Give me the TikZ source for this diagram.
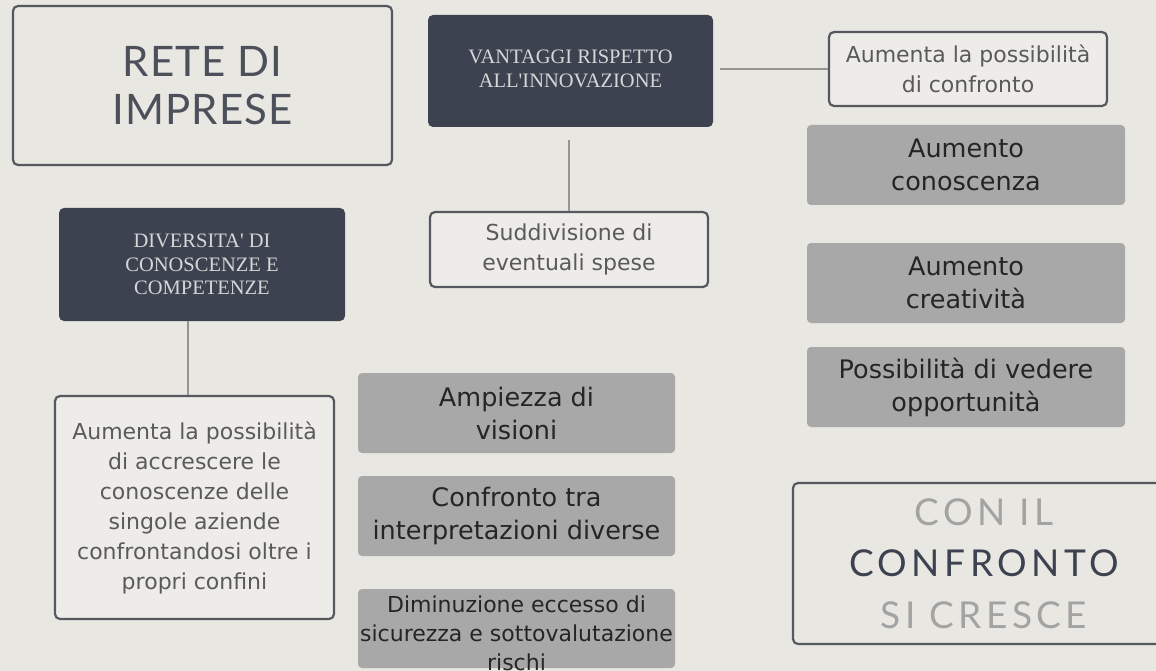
\documentclass[tikz,border=0pt]{standalone}
\usepackage{fontspec}
\newfontfamily\dvs{DejaVu Sans}
\newfontfamily\latof[LetterSpace=2.5]{Lato}
\newfontfamily\latow[LetterSpace=12]{Lato}
\newfontfamily\serf{Liberation Serif}
\definecolor{bgc}{HTML}{E8E7E1}
\definecolor{edgec}{HTML}{56585F}
\definecolor{boxw}{HTML}{EDECE8}
\definecolor{txtg}{HTML}{5A5A5A}
\definecolor{txtd}{HTML}{252525}
\definecolor{darkc}{HTML}{3D4250}
\definecolor{lighttxt}{HTML}{D6D6D6}
\definecolor{greyc}{HTML}{A8A8A8}
\definecolor{linec}{HTML}{959595}
\definecolor{titlec}{HTML}{4B505B}
\definecolor{paleg}{HTML}{A3A3A3}
\tikzset{
  outline/.style={draw=edgec, line width=2.2pt, rounded corners=5pt},
  whitebox/.style={outline, fill=boxw, text=txtg, font=\dvs\fontsize{22}{30}\selectfont, align=center, inner sep=0pt},
  darkbox/.style={fill=darkc, rounded corners=5pt, text=lighttxt, font=\serf\fontsize{20.5}{23.5}\selectfont, align=center, inner sep=0pt},
  greybox/.style={fill=greyc, rounded corners=4pt, text=txtd, font=\dvs\fontsize{25.5}{33}\selectfont, align=center, inner sep=0pt},
  conn/.style={draw=linec, line width=2pt},
  titletext/.style={font=\latof\fontsize{42}{48}\selectfont, align=center, text=titlec}
}
\begin{document}
\begin{tikzpicture}[x=1pt,y=-1pt]
\fill[bgc] (0,0) rectangle (1156,671);
\useasboundingbox (0,0) rectangle (1156,671);

% title
\node[outline, titletext, minimum width=379, minimum height=159] (rete) at (202.5,85.5) {RETE DI\\IMPRESE};

% dark boxes
\node[darkbox, minimum width=285, minimum height=112] (vant) at (570.5,71) {};
\node[darkbox] (vantt) at (570.5,69) {VANTAGGI RISPETTO\\ALL'INNOVAZIONE};
\node[darkbox, minimum width=286, minimum height=113] (div) at (202,264.5) {DIVERSITA' DI\\CONOSCENZE E\\COMPETENZE};

% white boxes
\node[whitebox, minimum width=278, minimum height=75] (sudd) at (569,249.5) {Suddivisione di\\eventuali spese};
\node[whitebox, minimum width=278, minimum height=74] (aum1) at (968,69) {Aumenta la possibilità\\di confronto};
\node[whitebox, minimum width=279, minimum height=223] (aum2) at (194.5,507.5) {Aumenta la possibilità\\di accrescere le\\conoscenze delle\\singole aziende\\confrontandosi oltre i\\propri confini};

% grey boxes right
\node[greybox, minimum width=318, minimum height=80] (g1) at (966,165) {Aumento\\conoscenza};
\node[greybox, minimum width=318, minimum height=80] (g2) at (966,283) {Aumento\\creatività};
\node[greybox, minimum width=318, minimum height=80] (g3) at (966,387) {Possibilità di vedere\\opportunità};

% grey boxes middle
\node[greybox, minimum width=317, minimum height=80] (m1) at (516.5,413) {Ampiezza di\\visioni};
\node[greybox, minimum width=317, minimum height=80] (m2) at (516.5,516) {Confronto tra\\interpretazioni diverse};
\node[greybox, minimum width=317, minimum height=79] (m3) at (516.5,628.5) {};
\node[font=\dvs\fontsize{22}{29}\selectfont, text=txtd, align=center, inner sep=0pt] (m3t) at (516.5,633) {Diminuzione eccesso di\\sicurezza e sottovalutazione\\rischi};

% final box
\node[outline, minimum width=382, minimum height=161, font=\latow\fontsize{37}{51.5}\selectfont, align=center] (con) at (984,563.5) {\textcolor{paleg}{CON IL}\\\textcolor{darkc}{CONFRONTO}\\\textcolor{paleg}{SI CRESCE}};

% connectors
\draw[conn, shorten <=7pt] (aum1.west -| vant.east) -- (aum1.west);
\draw[conn, shorten >=13pt] (sudd.north) -- (sudd.north |- vant.south);
\draw[conn] ([xshift=-14pt]div.south) -- ([xshift=-14pt]div.south |- aum2.north);
\end{tikzpicture}
\end{document}
